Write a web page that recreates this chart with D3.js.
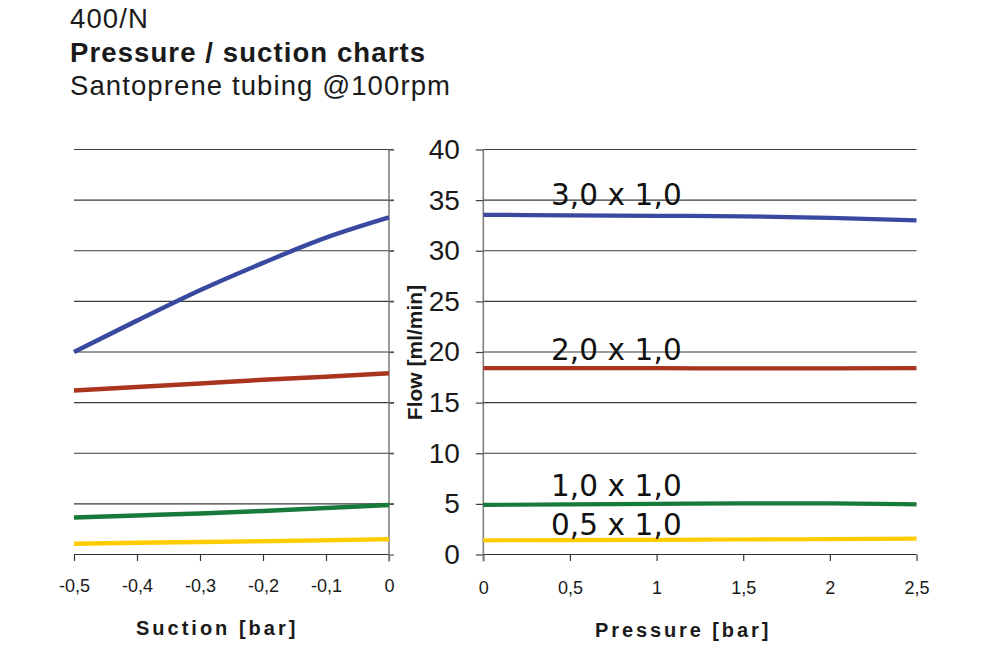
<!DOCTYPE html>
<html>
<head>
<meta charset="utf-8">
<script src="https://cdn.jsdelivr.net/npm/d3@7"></script>
<style>
  html, body { margin: 0; padding: 0; background: #fff; }
  svg { display: block; }
</style>
</head>
<body>
<svg id="chart" width="992" height="651"></svg>
<script>
// ---------- data ----------
const suctionX = [-0.5, -0.4, -0.3, -0.2, -0.1, 0];
const pressureX = [0, 0.5, 1, 1.5, 2, 2.5];
const seriesNames = ["3,0 x 1,0", "2,0 x 1,0", "1,0 x 1,0", "0,5 x 1,0"];
const suction30 = [20.0, 23.1, 26.1, 28.8, 31.3, 33.3];
const suction20 = [16.2, 16.55, 16.9, 17.25, 17.55, 17.9];
const suction10 = [3.65, 3.85, 4.05, 4.3, 4.6, 4.9];
const suction05 = [1.07, 1.15, 1.23, 1.31, 1.4, 1.5];
const pressure30 = [33.55, 33.5, 33.45, 33.4, 33.25, 33.0];
const pressure20 = [18.4, 18.4, 18.4, 18.38, 18.38, 18.4];
const pressure10 = [4.9, 4.95, 5.0, 5.05, 5.05, 4.95];
const pressure05 = [1.4, 1.42, 1.45, 1.48, 1.52, 1.56];
const flowTicks = [0, 5, 10, 15, 20, 25, 30, 35, 40];
const suctionTicks = [-0.5, -0.4, -0.3, -0.2, -0.1, 0];
const pressureTicks = [0, 0.5, 1, 1.5, 2, 2.5];
const titleLines = ["400/N", "Pressure / suction charts", "Santoprene tubing @100rpm"];
const suctionTitle = "Suction [bar]";
const pressureTitle = "Pressure [bar]";
const flowTitle = "Flow [ml/min]";

// ---------- styles ----------
const colors = ["#3a49a0", "#a9351f", "#177a3a", "#ffcc00"];
const suctionSeries = [suction30, suction20, suction10, suction05];
const pressureSeries = [pressure30, pressure20, pressure10, pressure05];
const SANS = "'Liberation Sans', Arial, Helvetica, sans-serif";
const LABELFONT = "'DejaVu Sans', Verdana, sans-serif";

const svg = d3.select("#chart");
const fmt = d => String(d).replace(".", ",");

const xS = d3.scaleLinear().domain([-0.5, 0]).range([74, 389]);
const xP = d3.scaleLinear().domain([0, 2.5]).range([483.3, 916.5]);
const y = d3.scaleLinear().domain([0, 40]).range([554.5, 149.5]);

// ---------- titles ----------
const tb = [28, 62, 95];
titleLines.forEach((t, i) => {
  svg.append("text").attr("x", 70).attr("y", tb[i])
    .style("font-family", SANS).style("font-size", "27.5px")
    .style("font-weight", i === 1 ? "bold" : "normal")
    .style("letter-spacing", "1.1px")
    .attr("fill", "#1a1a1a").text(t);
});

// ---------- gridlines ----------
const grid = svg.append("g");
grid.selectAll("line.gl").data(flowTicks.filter(d => d > 0)).join("line")
  .attr("x1", xS(-0.5)).attr("x2", xS(0) + 5)
  .attr("y1", d => y(d)).attr("y2", d => y(d))
  .attr("stroke", "#3a3a3a").attr("stroke-width", 1.2);
grid.selectAll("line.gr").data(flowTicks.filter(d => d > 0)).join("line")
  .attr("x1", xP(0)).attr("x2", xP(2.5))
  .attr("y1", d => y(d)).attr("y2", d => y(d))
  .attr("stroke", "#3a3a3a").attr("stroke-width", 1.2);

// ---------- left axes ----------
const axS = svg.append("g").attr("transform", `translate(0,${y(0)})`)
  .call(d3.axisBottom(xS).tickValues(suctionTicks).tickSize(6.5).tickPadding(18).tickFormat(fmt));
axS.select(".domain").attr("stroke", "#333").attr("stroke-width", 1.2).attr("d", `M${xS(-0.5)},0H${xS(0)}`);
axS.selectAll(".tick line").attr("stroke", "#333").attr("stroke-width", 1.2);
axS.selectAll(".tick text").style("font-size", "18px").attr("fill", "#1a1a1a").style("font-family", SANS);

const ayS = svg.append("g").attr("transform", `translate(${xS(0)},0)`)
  .call(d3.axisRight(y).tickValues(flowTicks).tickSize(5).tickFormat(""));
ayS.select(".domain").attr("stroke", "#808080").attr("stroke-width", 1.6).attr("d", `M0,${y(40)}V${y(0) + 7}`);
ayS.selectAll(".tick line").attr("stroke", "#555").attr("stroke-width", 1.2);

// ---------- right axes ----------
const axP = svg.append("g").attr("transform", `translate(0,${y(0)})`)
  .call(d3.axisBottom(xP).tickValues(pressureTicks).tickSize(6.5).tickPadding(20).tickFormat(fmt));
axP.select(".domain").attr("stroke", "#333").attr("stroke-width", 1.2).attr("d", `M${xP(0)},0H${xP(2.5)}`);
axP.selectAll(".tick line").attr("stroke", "#333").attr("stroke-width", 1.2);
axP.selectAll(".tick text").style("font-size", "18px").attr("fill", "#1a1a1a").style("font-family", SANS);

const ayP = svg.append("g").attr("transform", `translate(${xP(0)},0)`)
  .call(d3.axisLeft(y).tickValues(flowTicks).tickSize(7.5).tickPadding(16).tickFormat(d => d));
ayP.select(".domain").attr("stroke", "#808080").attr("stroke-width", 1.6).attr("d", `M0,${y(40)}V${y(0) + 7}`);
ayP.selectAll(".tick line").attr("stroke", "#444").attr("stroke-width", 1.2);
ayP.selectAll(".tick text").style("font-size", "28px").attr("fill", "#1a1a1a").style("font-family", SANS);

// ---------- axis titles ----------
svg.append("text").attr("x", 136).attr("y", 635)
  .style("font-family", SANS).style("font-size", "20px").style("font-weight", "bold")
  .style("letter-spacing", "3px").attr("fill", "#1a1a1a").text(suctionTitle);
svg.append("text").attr("x", 595).attr("y", 637)
  .style("font-family", SANS).style("font-size", "20px").style("font-weight", "bold")
  .style("letter-spacing", "2.9px").attr("fill", "#1a1a1a").text(pressureTitle);
svg.append("text").attr("transform", "translate(422,352.5) rotate(-90)").attr("text-anchor", "middle")
  .style("font-family", SANS).style("font-size", "21px").style("font-weight", "bold")
  .attr("fill", "#1a1a1a").text(flowTitle);

// ---------- lines ----------
const lineS = d3.line().x((d, i) => xS(suctionX[i])).y(d => y(d)).curve(d3.curveMonotoneX);
const lineP = d3.line().x((d, i) => xP(pressureX[i])).y(d => y(d)).curve(d3.curveMonotoneX);

svg.append("g").selectAll("path").data(suctionSeries).join("path")
  .attr("d", lineS).attr("fill", "none")
  .attr("stroke", (d, i) => colors[i]).attr("stroke-width", 4.5);
svg.append("g").selectAll("path").data(pressureSeries).join("path")
  .attr("d", lineP).attr("fill", "none")
  .attr("stroke", (d, i) => colors[i]).attr("stroke-width", 4.2);

// ---------- series labels ----------
const labelAt = 0.39;      // pressure position where labels start
const labelDy = [-10, -8, -8, -5];
svg.append("g").selectAll("text").data(seriesNames).join("text")
  .attr("x", xP(labelAt))
  .attr("y", (d, i) => {
    const s = pressureSeries[i];
    const v = d3.scaleLinear().domain(pressureX).range(s)(labelAt);
    return y(v) + labelDy[i];
  })
  .style("font-family", LABELFONT)
  .style("font-size", "29.5px").style("letter-spacing", "0.1px").attr("fill", "#111")
  .text(d => d);
</script>
</body>
</html>
